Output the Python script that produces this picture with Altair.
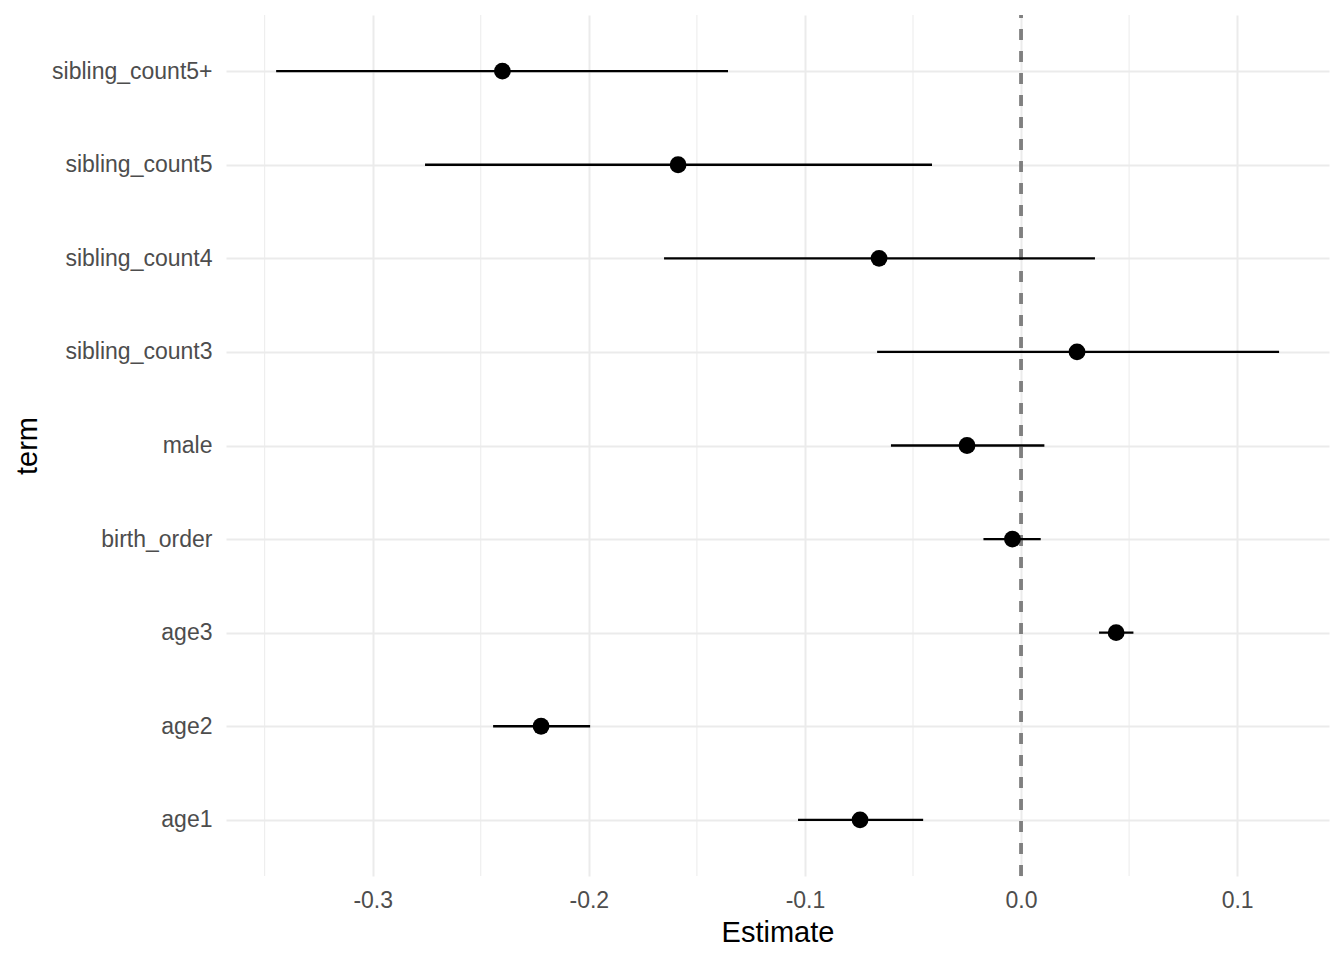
import altair as alt
import pandas as pd

terms = ["sibling_count5+", "sibling_count5", "sibling_count4", "sibling_count3",
         "male", "birth_order", "age3", "age2", "age1"]
estimate = [-0.2400, -0.1587, -0.0657, 0.0259, -0.0250, -0.0040, 0.0440, -0.2221, -0.0745]
conf_low = [-0.3447, -0.2758, -0.1652, -0.0666, -0.0602, -0.0174, 0.0361, -0.2443, -0.1032]
conf_high = [-0.1356, -0.0412, 0.0342, 0.1194, 0.0108, 0.0091, 0.0520, -0.1994, -0.0453]

major_ticks = [-0.3, -0.2, -0.1, 0.0, 0.1]
minor_ticks = [-0.35, -0.25, -0.15, -0.05, 0.05]
x_domain = [-0.3679, 0.1425]

df = pd.DataFrame({"term": terms, "estimate": estimate,
                   "conf_low": conf_low, "conf_high": conf_high})
minor_df = pd.DataFrame({"estimate": minor_ticks})

W, H = 1103, 861
FONT = "Liberation Sans, Arial, Helvetica, sans-serif"

x_axis = alt.Axis(values=major_ticks, title="Estimate",
                  labelExpr="replace(format(datum.value, '.1f'), '\u2212', '-')",
                  grid=True, gridColor="#EBEBEB", gridWidth=2,
                  domain=False, ticks=False, tickSize=0,
                  labelFontSize=23, labelColor="#4D4D4D", labelPadding=13,
                  labelFont=FONT, titleFont=FONT, titleFontSize=29,
                  titleFontWeight="normal", titleColor="#000000", titlePadding=6)
x_scale = alt.Scale(domain=x_domain, nice=False, zero=False)

y_enc = alt.Y("term:N", sort=terms, title="term",
              scale=alt.Scale(type="point", padding=0.6),
              axis=alt.Axis(grid=True, gridColor="#EBEBEB", gridWidth=2,
                            domain=False, ticks=False, tickSize=0,
                            labelFontSize=23, labelColor="#4D4D4D", labelPadding=14,
                            labelFont=FONT, titleFont=FONT, titleFontSize=29,
                            titleFontWeight="normal", titleColor="#000000",
                            titlePadding=9))

minor = alt.Chart(minor_df).mark_rule(color="#EBEBEB", strokeWidth=1).encode(
    x=alt.X("estimate:Q", scale=x_scale, axis=x_axis)
)

zero = alt.Chart(df).mark_rule(color="#7F7F7F", strokeWidth=2.5,
                               strokeDash=[11, 11]).encode(
    x=alt.datum(0.0, scale=x_scale, axis=x_axis),
    y=alt.value(H), y2=alt.value(0)
)

bars = alt.Chart(df).mark_rule(color="#000000", strokeWidth=2.3).encode(
    x=alt.X("conf_low:Q", scale=x_scale, axis=x_axis),
    x2="conf_high:Q",
    y=y_enc,
)

points = alt.Chart(df).mark_point(filled=True, color="#000000", opacity=1,
                                  size=283).encode(
    x=alt.X("estimate:Q", scale=x_scale, axis=x_axis),
    y=y_enc,
)

chart = alt.layer(minor, zero, bars, points).properties(
    width=W, height=H,
    autosize=alt.AutoSizeParams(type="none"),
    padding={"left": 218, "top": 7, "right": 7, "bottom": 75},
    background="#FFFFFF",
).configure_view(stroke=None)

chart.save("out.html", embed_options={"renderer": "svg", "actions": False})
